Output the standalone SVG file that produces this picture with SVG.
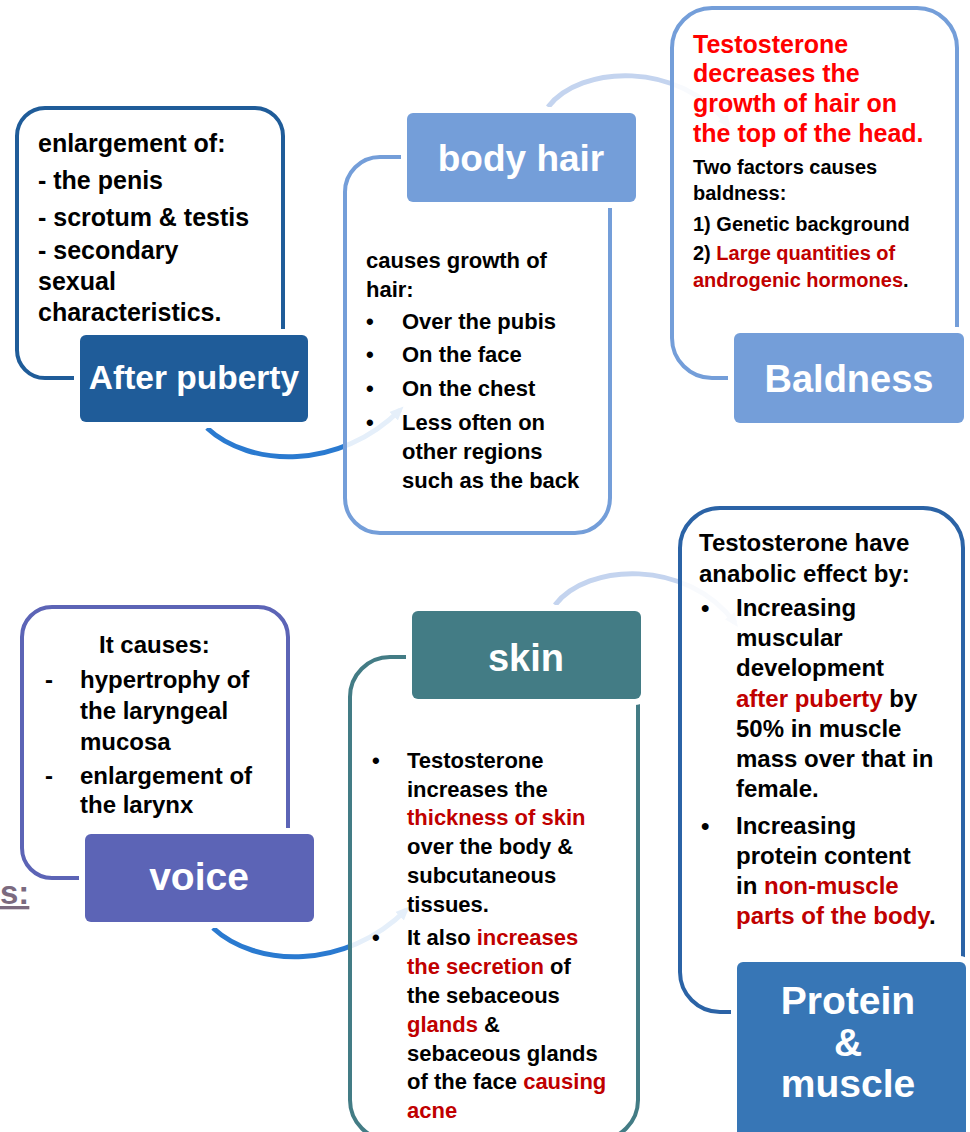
<svg xmlns="http://www.w3.org/2000/svg" width="970" height="1132" viewBox="0 0 970 1132">
<style>
text{font-family:"Liberation Sans",Arial,sans-serif;font-weight:bold;fill:#000}
.ttl{fill:#fff;text-anchor:middle}
.r{fill:#c00000}
.rr{fill:#ff0000}
.box{fill:#fff;fill-opacity:0.88;stroke-width:4}
.lab{stroke:#fff;stroke-width:12}
.arcD{fill:none;stroke:#2a7ad0;stroke-width:5}
.arcL{fill:none;stroke:#c4d4ef;stroke-width:5}
.s25{font-size:25px}
.s22{font-size:22px}
.s20{font-size:20px}
.s24{font-size:24px}
</style>
<defs>
<marker id="mD" viewBox="0 0 14 14" markerWidth="14" markerHeight="14" markerUnits="userSpaceOnUse" refX="9" refY="7" orient="auto">
<path d="M0,1 L14,7 L0,13 z" fill="#2a7ad0"/>
</marker>
<marker id="mL" viewBox="0 0 14 14" markerWidth="14" markerHeight="14" markerUnits="userSpaceOnUse" refX="9" refY="7" orient="auto">
<path d="M0,1 L14,7 L0,13 z" fill="#c4d4ef"/>
</marker>
</defs>
<rect width="970" height="1132" fill="#fff"/>

<g id="connectors">
<path class="arcD" d="M207,428 C250,468 340,470 400,410" marker-end="url(#mD)"/>
<path class="arcL" d="M548,107 C580,65 680,60 728,125" marker-end="url(#mL)"/>
<path class="arcD" d="M213,928 C256,968 346,970 406,910" marker-end="url(#mD)"/>
<path class="arcL" d="M555,605 C587,563 687,558 735,623" marker-end="url(#mL)"/>
</g>

<g id="after-puberty">
<rect class="box" x="17" y="108" width="266" height="270" rx="28" stroke="#1f5c99"/>
<rect class="lab" x="80" y="335" width="228" height="87" rx="6" fill="#1f5c99"/>
<rect x="80" y="335" width="228" height="87" rx="6" fill="#1f5c99"/>
<text class="ttl" x="194" y="389" font-size="33.5">After puberty</text>
<text class="s25" x="38" y="152">enlargement of:</text>
<text class="s25" x="38" y="189">- the penis</text>
<text class="s25" x="38" y="226">- scrotum &amp; testis</text>
<text class="s25" x="38" y="259">- secondary</text>
<text class="s25" x="38" y="290">sexual</text>
<text class="s25" x="38" y="321">characteristics.</text>
</g>

<g id="body-hair">
<rect class="box" x="345" y="157" width="265" height="376" rx="35" stroke="#749ed9"/>
<rect class="lab" x="407" y="113" width="229" height="89" rx="6" fill="#749ed9"/>
<rect x="407" y="113" width="229" height="89" rx="6" fill="#749ed9"/>
<text class="ttl" x="521" y="171" font-size="37">body hair</text>
<text class="s22" x="366" y="268">causes growth of</text>
<text class="s22" x="366" y="297">hair:</text>
<text class="s22" x="366" y="329">•</text>
<text class="s22" x="402" y="329">Over the pubis</text>
<text class="s22" x="366" y="362">•</text>
<text class="s22" x="402" y="362">On the face</text>
<text class="s22" x="366" y="396">•</text>
<text class="s22" x="402" y="396">On the chest</text>
<text class="s22" x="366" y="430">•</text>
<text class="s22" x="402" y="430">Less often on</text>
<text class="s22" x="402" y="459">other regions</text>
<text class="s22" x="402" y="488">such as the back</text>
</g>

<g id="baldness">
<rect class="box" x="672" y="8" width="285" height="370" rx="40" stroke="#749ed9"/>
<rect class="lab" x="734" y="333" width="230" height="90" rx="6" fill="#749ed9"/>
<rect x="734" y="333" width="230" height="90" rx="6" fill="#749ed9"/>
<text class="ttl" x="849" y="392" font-size="38">Baldness</text>
<text class="s25 rr" x="693" y="53">Testosterone</text>
<text class="s25 rr" x="693" y="82">decreases the</text>
<text class="s25 rr" x="693" y="112">growth of hair on</text>
<text class="s25 rr" x="693" y="142">the top of the head.</text>
<text class="s20" x="693" y="174">Two factors causes</text>
<text class="s20" x="693" y="200">baldness:</text>
<text class="s20" x="693" y="231">1) Genetic background</text>
<text class="s20" x="693" y="260">2) <tspan class="r">Large quantities of</tspan></text>
<text class="s20" x="693" y="287"><tspan class="r">androgenic hormones</tspan>.</text>
</g>

<g id="voice">
<rect class="box" x="22" y="607" width="266" height="271" rx="30" stroke="#5c64b6"/>
<rect class="lab" x="85" y="834" width="229" height="88" rx="6" fill="#5c64b6"/>
<rect x="85" y="834" width="229" height="88" rx="6" fill="#5c64b6"/>
<text class="ttl" x="199" y="890" font-size="39">voice</text>
<text class="s24" x="99" y="653">It causes:</text>
<text class="s24" x="45" y="688">-</text>
<text class="s24" x="80" y="688">hypertrophy of</text>
<text class="s24" x="80" y="719">the laryngeal</text>
<text class="s24" x="80" y="750">mucosa</text>
<text class="s24" x="45" y="784">-</text>
<text class="s24" x="80" y="784">enlargement of</text>
<text class="s24" x="80" y="813">the larynx</text>
</g>

<g id="skin">
<rect class="box" x="350" y="657" width="288" height="483" rx="40" stroke="#437c85"/>
<rect class="lab" x="412" y="611" width="229" height="88" rx="6" fill="#437c85"/>
<rect x="412" y="611" width="229" height="88" rx="6" fill="#437c85"/>
<text class="ttl" x="526" y="671" font-size="38">skin</text>
<text class="s22" x="372" y="768">•</text>
<text class="s22" x="407" y="768">Testosterone</text>
<text class="s22" x="407" y="797">increases the</text>
<text class="s22 r" x="407" y="825">thickness of skin</text>
<text class="s22" x="407" y="854">over the body &amp;</text>
<text class="s22" x="407" y="883">subcutaneous</text>
<text class="s22" x="407" y="912">tissues.</text>
<text class="s22" x="372" y="945">•</text>
<text class="s22" x="407" y="945">It also <tspan class="r">increases</tspan></text>
<text class="s22" x="407" y="974"><tspan class="r">the secretion</tspan> of</text>
<text class="s22" x="407" y="1003">the sebaceous</text>
<text class="s22" x="407" y="1032"><tspan class="r">glands</tspan> &amp;</text>
<text class="s22" x="407" y="1061">sebaceous glands</text>
<text class="s22" x="407" y="1089">of the face <tspan class="r">causing</tspan></text>
<text class="s22 r" x="407" y="1118">acne</text>
</g>

<g id="protein-muscle">
<rect class="box" x="680" y="508" width="283" height="504" rx="40" stroke="#2b63a6"/>
<rect class="lab" x="737" y="962" width="229" height="185" rx="6" fill="#3776b6"/>
<rect x="737" y="962" width="229" height="185" rx="6" fill="#3776b6"/>
<text class="ttl" x="848" y="1014" font-size="39">Protein</text>
<text class="ttl" x="848" y="1056" font-size="39">&amp;</text>
<text class="ttl" x="848" y="1097" font-size="39">muscle</text>
<text class="s24" x="699" y="551">Testosterone have</text>
<text class="s24" x="699" y="582">anabolic effect by:</text>
<text class="s24" x="701" y="616">•</text>
<text class="s24" x="736" y="616">Increasing</text>
<text class="s24" x="736" y="646">muscular</text>
<text class="s24" x="736" y="676">development</text>
<text class="s24" x="736" y="707"><tspan class="r">after puberty</tspan> by</text>
<text class="s24" x="736" y="737">50% in muscle</text>
<text class="s24" x="736" y="767">mass over that in</text>
<text class="s24" x="736" y="797">female.</text>
<text class="s24" x="701" y="834">•</text>
<text class="s24" x="736" y="834">Increasing</text>
<text class="s24" x="736" y="864">protein content</text>
<text class="s24" x="736" y="894">in <tspan class="r">non-muscle</tspan></text>
<text class="s24" x="736" y="924"><tspan class="r">parts of the body</tspan>.</text>
</g>

<text x="0" y="904" font-size="33" style="fill:#7b6a7f;text-decoration:underline">s:</text>
</svg>
